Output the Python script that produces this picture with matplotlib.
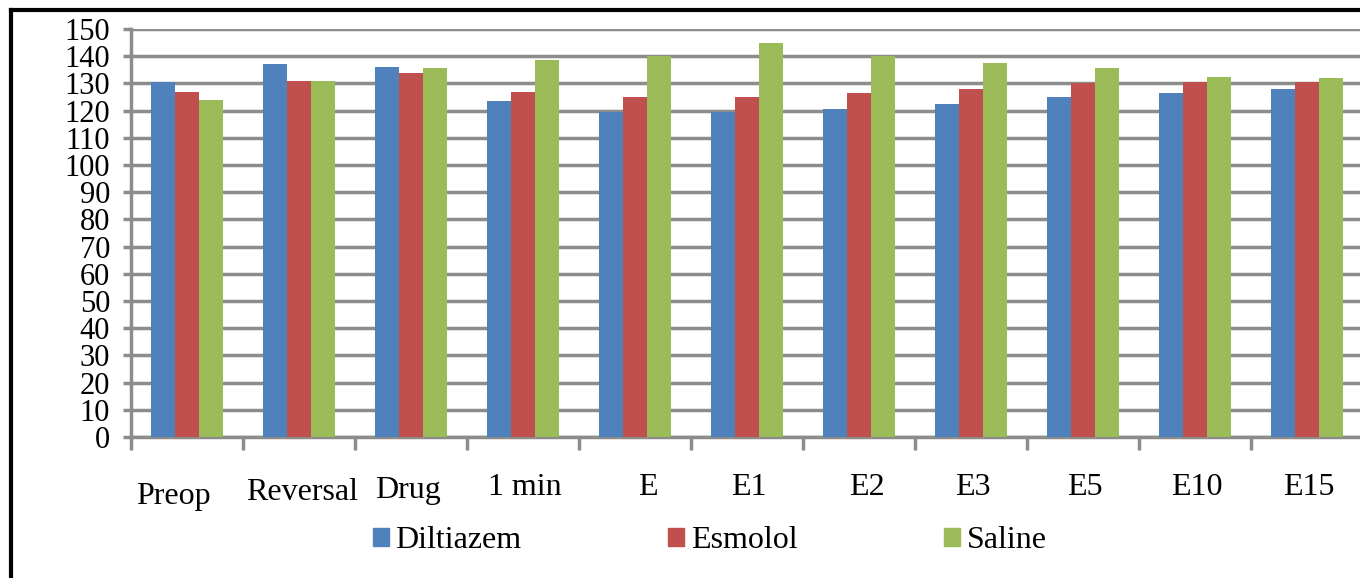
import numpy as np
import matplotlib.pyplot as plt
from matplotlib.lines import Line2D

plt.rcParams['font.family'] = ['Liberation Serif', 'DejaVu Serif']

# Data
categories = ["Preop", "Reversal", "Drug", "1 min", "E", "E1", "E2", "E3", "E5", "E10", "E15"]
diltiazem = [130.5, 137, 136, 123.5, 119.5, 119.5, 120.5, 122.5, 125, 126.5, 128]
esmolol = [127, 131, 134, 127, 125, 125, 126.5, 128, 130, 130.5, 130.5]
saline = [124, 131, 135.5, 138.5, 140, 145, 140, 137.5, 135.5, 132.5, 132]

series = [("Diltiazem", diltiazem, "#4F81BD"),
          ("Esmolol", esmolol, "#C0504D"),
          ("Saline", saline, "#9BBB59")]

fig = plt.figure(figsize=(13.6, 5.78), dpi=100)
ax = fig.add_axes([131 / 1360, 141 / 578, 1232 / 1360, 408 / 578])

x = np.arange(len(categories))
w = 0.215
for i, (name, vals, col) in enumerate(series):
    ax.bar(x + (i - 1) * w, vals, width=w, color=col, label=name, zorder=3)

ax.set_xlim(-0.5, len(categories) - 0.5)
ax.set_ylim(0, 150)
ax.set_yticks(np.arange(0, 151, 10))
ax.yaxis.grid(True, color="#8c8c8c", linewidth=2.5, zorder=0)
ax.set_axisbelow(True)

for s in ["top", "right"]:
    ax.spines[s].set_visible(False)
for s in ["left", "bottom"]:
    ax.spines[s].set_color("#8c8c8c")
    ax.spines[s].set_linewidth(2.5)

# category boundary ticks on x, labels placed separately
ax.set_xticks(np.arange(-0.5, len(categories), 1.0))
ax.set_xticklabels([])
ax.tick_params(axis="x", direction="out", length=9, width=2.5, color="#8c8c8c")
ax.tick_params(axis="y", direction="out", length=6, width=2.5, color="#8c8c8c",
               labelsize=22, pad=9)

# the original labels sit a little irregularly
nudge = {"Preop": (-10, -48.5), "Reversal": (2, -45.5), "Drug": (-2, -44),
         "E": (9, -42), "E2": (6, -42)}
for i, c in enumerate(categories):
    dx, dy = nudge.get(c, (1, -42))
    ax.annotate(c, xy=(i, 0), xytext=(dx, dy), textcoords="offset points",
                ha="center", va="baseline", fontsize=23, annotation_clip=False)

handles = [plt.Rectangle((0, 0), 1, 1, color=col) for _, _, col in series]
leg = fig.legend(handles, [s[0] for s in series], loc="center left",
                 bbox_to_anchor=(373 / 1360, 1 - 541 / 578), ncol=3, frameon=False,
                 prop={"family": "Liberation Serif", "size": 23},
                 borderaxespad=0, borderpad=0,
                 handlelength=0.5, handleheight=0.5, handletextpad=0.2,
                 columnspacing=4.6)

# outer frame (left and top edges visible)
fig.add_artist(Line2D([11 / 1360, 11 / 1360], [0, 1 - 10 / 578], color="black", linewidth=3))
fig.add_artist(Line2D([11 / 1360, 1], [1 - 10 / 578, 1 - 10 / 578], color="black", linewidth=3))

fig.savefig("out.png", dpi=100)
